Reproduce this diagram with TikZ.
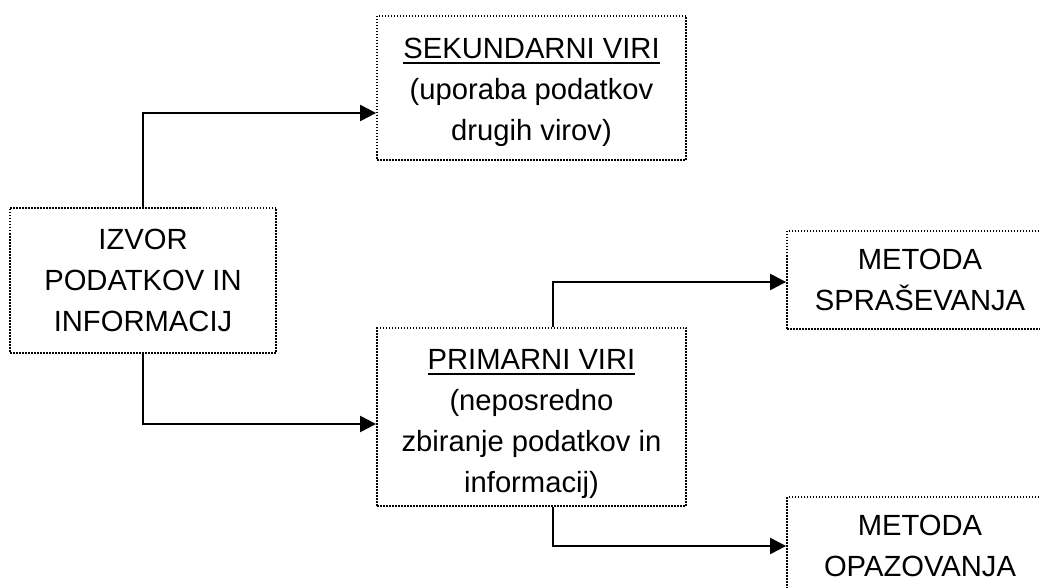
\documentclass[tikz,border=0pt]{standalone}
\usepackage{fontspec}
\setmainfont{Liberation Sans}
\usetikzlibrary{arrows.meta}
\newcommand{\thickul}[1]{\leavevmode\vtop{\hbox{#1}\kern1.4pt\hrule height 1pt}}
\tikzset{srcbox/.style={draw,line width=0.9pt,dash pattern=on 0.75pt off 0.75pt,inner sep=0pt,align=center,font=\fontsize{14.6}{20.5}\selectfont}}
\tikzset{link/.style={line width=1.1pt,-{Triangle[length=8pt,width=8pt]}}}
\begin{document}
\begin{tikzpicture}[x=0.5pt,y=-0.5pt]
    \useasboundingbox (0,0) rectangle (1040,588);
    \node[srcbox,minimum width=133pt,minimum height=72.5pt] (izvor) at (143,280.5) {IZVOR\\PODATKOV IN\\INFORMACIJ};
    \node[srcbox,minimum width=154.5pt,minimum height=72pt] (sek) at (531.5,88) {\rule{0pt}{14.5pt}\thickul{SEKUNDARNI VIRI}\\(uporaba podatkov\\drugih virov)};
    \node[srcbox,minimum width=154.5pt,minimum height=89pt] (prim) at (531.5,417) {\rule{0pt}{17.5pt}\thickul{PRIMARNI VIRI}\\(neposredno\\zbiranje podatkov in\\informacij)};
    \node[srcbox,minimum width=133pt,minimum height=49pt] (spr) at (920,280) {METODA\\SPRAŠEVANJA};
    \node[srcbox,minimum width=133pt,minimum height=49pt] (opa) at (920,546) {METODA\\OPAZOVANJA};
    \draw[link] (izvor.north) |- ([yshift=-12.5pt]sek.west);
    \draw[link] (izvor.south) |- ([yshift=-3.5pt]prim.west);
    \draw[link] ([xshift=10.75pt]prim.north) |- ([yshift=-1pt]spr.west);
    \draw[link] ([xshift=10.75pt]prim.south) |- (opa.west);
  \end{tikzpicture}
\end{document}
